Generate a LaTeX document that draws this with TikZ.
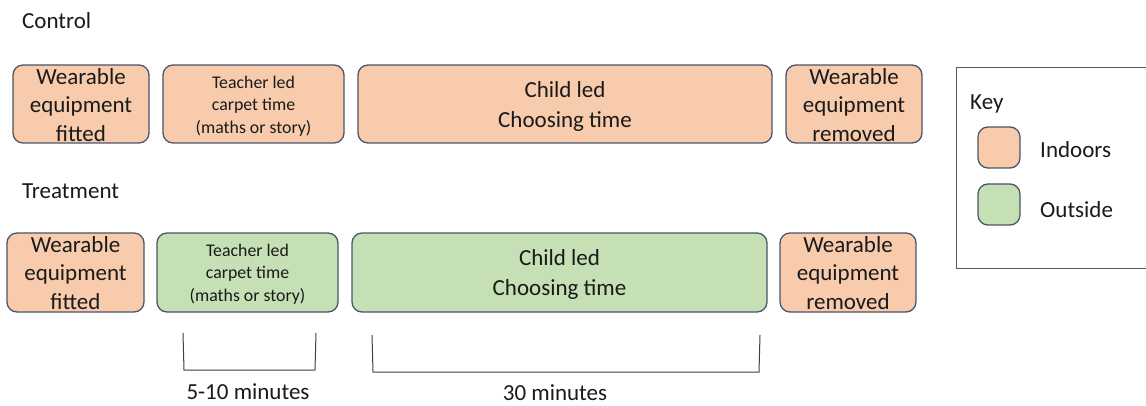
\documentclass[tikz,border=0pt]{standalone}
\usepackage{fontspec}
\setmainfont{Carlito}
\definecolor{peach}{HTML}{F8CBAD}
\definecolor{lgreen}{HTML}{C5E0B4}
\definecolor{bord}{HTML}{4A5568}
\definecolor{txt}{HTML}{1A1A1A}
\begin{document}
\begin{tikzpicture}[x=1pt,y=-1pt,
  stage/.style={draw=bord,line width=1.3pt,rounded corners=10pt,inner sep=0pt},
  indoor/.style={stage,fill=peach},
  outdoor/.style={stage,fill=lgreen},
  big/.style={font=\fontsize{23}{28.5}\selectfont,text=txt,align=center,inner sep=0pt},
  child/.style={font=\fontsize{23}{30}\selectfont,text=txt,align=center,inner sep=0pt},
  small/.style={font=\fontsize{17.8}{22.5}\selectfont,text=txt,align=center,inner sep=0pt},
  lbl/.style={font=\fontsize{23}{27}\selectfont,text=txt,anchor=base west,inner sep=0pt},
  dur/.style={font=\fontsize{23}{27}\selectfont,text=txt,inner sep=0pt},
  brk/.style={draw=black!75,line width=1pt}]
\clip (0,0) rectangle (1146,406);
\fill[white] (0,0) rectangle (1146,406);
% titles
\node[lbl] (tc) at (22,29) {Control};
\node[lbl] (tt) at (22,199) {Treatment};
% control row
\path[indoor] (13,65) rectangle (149,143);
\node[big] (c1) at (81,105) {Wearable\\equipment\\fitted};
\path[indoor] (163,65) rectangle (344,143);
\node[small] (c2) at (253.5,106) {Teacher led\\carpet time\\(maths or story)};
\path[indoor] (358,65) rectangle (772,143);
\node[child] (c3) at (565,106) {Child led\\Choosing time};
\path[indoor] (786,65) rectangle (922,143);
\node[big] (c4) at (854,105) {Wearable\\equipment\\removed};
% treatment row
\path[indoor] (7,233) rectangle (144,312);
\node[big] (t1) at (75.5,273) {Wearable\\equipment\\fitted};
\path[outdoor] (157,233) rectangle (338,312);
\node[small] (t2) at (247.5,274) {Teacher led\\carpet time\\(maths or story)};
\path[outdoor] (352,233) rectangle (767,312);
\node[child] (t3) at (559.5,274) {Child led\\Choosing time};
\path[indoor] (780,233) rectangle (916,312);
\node[big] (t4) at (848,273) {Wearable\\equipment\\removed};
% brackets
\coordinate (b1a) at (183,333); \coordinate (b1b) at (184,370);
\coordinate (b1c) at (315,370); \coordinate (b1d) at (316,333);
\draw[brk] (b1a) -- (b1b) -- (b1c) -- (b1d);
\coordinate (b2a) at (372,335); \coordinate (b2b) at (373,372);
\coordinate (b2c) at (759,372); \coordinate (b2d) at (760,335);
\draw[brk] (b2a) -- (b2b) -- (b2c) -- (b2d);
\node[dur] (d1) at (248,392) {5-10 minutes};
\node[dur] (d2) at (555,393) {30 minutes};
% key
\draw[draw=black!65,line width=1pt] (956,68) rectangle (1160,268);
\node[lbl] (key) at (970,110) {Key};
\path[indoor] (978,127) rectangle (1020,168);
\node[lbl] (kin) at (1040,158) {Indoors};
\path[outdoor] (978,184) rectangle (1020,225);
\node[lbl] (kout) at (1040,218) {Outside};
\end{tikzpicture}
\end{document}
